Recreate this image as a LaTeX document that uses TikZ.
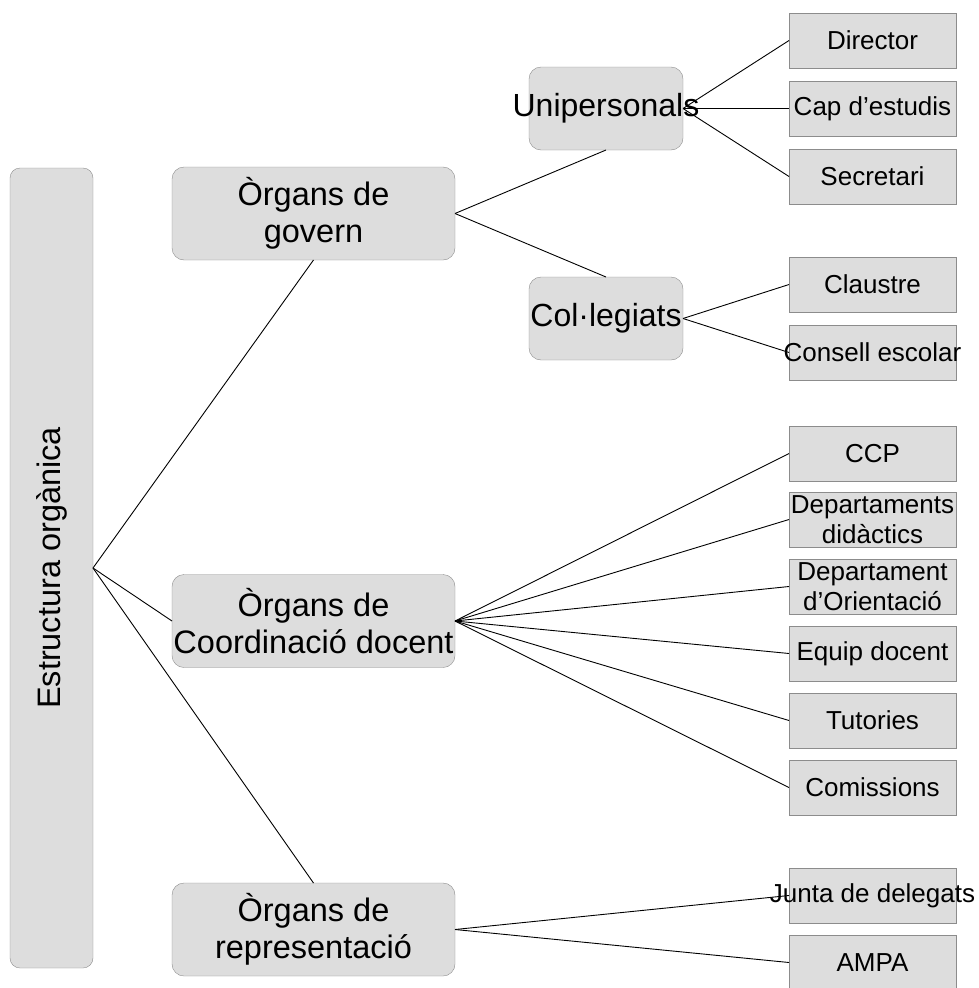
\documentclass[tikz,border=0pt]{standalone}
\usepackage{fontspec}
\setmainfont{Liberation Sans}
\usepackage{tikz}
\usetikzlibrary{positioning}
\definecolor{boxfill}{HTML}{DDDDDD}
\definecolor{boxline}{HTML}{8C8C8C}
\newcommand{\spill}[1]{\makebox[0pt]{#1}}

\begin{document}
\begin{tikzpicture}[x=1pt, y=-1pt,
  rootbox/.style={draw=boxline, fill=boxfill, rounded corners=10pt, inner sep=0pt, outer sep=0pt, minimum width=83pt, minimum height=800pt, font=\fontsize{32.5}{37}\selectfont},
  organ/.style={draw=boxline, fill=boxfill, rounded corners=12pt, inner sep=0pt, outer sep=0pt, minimum width=283pt, minimum height=93pt, align=center, font=\fontsize{32.5}{36.5}\selectfont},
  kind/.style={draw=boxline, fill=boxfill, rounded corners=12pt, inner sep=0pt, outer sep=0pt, minimum width=154pt, minimum height=83pt, font=\fontsize{32}{36}\selectfont},
  member/.style={draw=boxline, fill=boxfill, inner sep=0pt, outer sep=0pt, minimum width=167pt, minimum height=55pt, align=center, font=\fontsize{26}{29.5}\selectfont},
  link/.style={draw=black, line width=0.9pt}]
\useasboundingbox (0,0) rectangle (979,988);
\node[rootbox] (root) at (51.5,568) {\rotatebox{90}{Estructura orgànica}};
\node[organ] (govern) at (313.5,213.5) {Òrgans de\\govern};
\node[organ] (coord) at (313.5,621) {Òrgans de\\Coordinació docent};
\node[organ] (repr) at (313.5,929.5) {Òrgans de\\representació};
\node[kind] (uni) at (606,108.5) {\spill{Unipersonals}};
\node[kind] (col) at (606,318.5) {\spill{Col·legiats}};
\node[member] (dir) at (872.5,40.5) {Director};
\node[member] (cap) at (872.5,108.5) {\spill{Cap d’estudis}};
\node[member] (sec) at (872.5,176.5) {Secretari};
\node[member] (cla) at (872.5,284.5) {Claustre};
\node[member] (cons) at (872.5,352.5) {\spill{Consell escolar}};
\node[member] (ccp) at (872.5,453.5) {CCP};
\node[member] (dept) at (872.5,519.5) {Departaments\\didàctics};
\node[member] (orient) at (872.5,586.5) {Departament\\d’Orientació};
\node[member] (equip) at (872.5,653.5) {Equip docent};
\node[member] (tut) at (872.5,720.5) {Tutories};
\node[member] (com) at (872.5,787.5) {Comissions};
\node[member] (junta) at (872.5,895.5) {\spill{Junta de delegats}};
\node[member] (ampa) at (872.5,962.5) {AMPA};
\draw[link] (root.east) -- (govern.south);
\draw[link] (root.east) -- (coord.west);
\draw[link] (root.east) -- (repr.north);
\draw[link] (govern.east) -- (uni.south);
\draw[link] (govern.east) -- (col.north);
\draw[link] (uni.east) -- (dir.west);
\draw[link] (uni.east) -- (cap.west);
\draw[link] (uni.east) -- (sec.west);
\draw[link] (col.east) -- (cla.west);
\draw[link] (col.east) -- (cons.west);
\draw[link] (coord.east) -- (ccp.west);
\draw[link] (coord.east) -- (dept.west);
\draw[link] (coord.east) -- (orient.west);
\draw[link] (coord.east) -- (equip.west);
\draw[link] (coord.east) -- (tut.west);
\draw[link] (coord.east) -- (com.west);
\draw[link] (repr.east) -- (junta.west);
\draw[link] (repr.east) -- (ampa.west);
\end{tikzpicture}
\end{document}
